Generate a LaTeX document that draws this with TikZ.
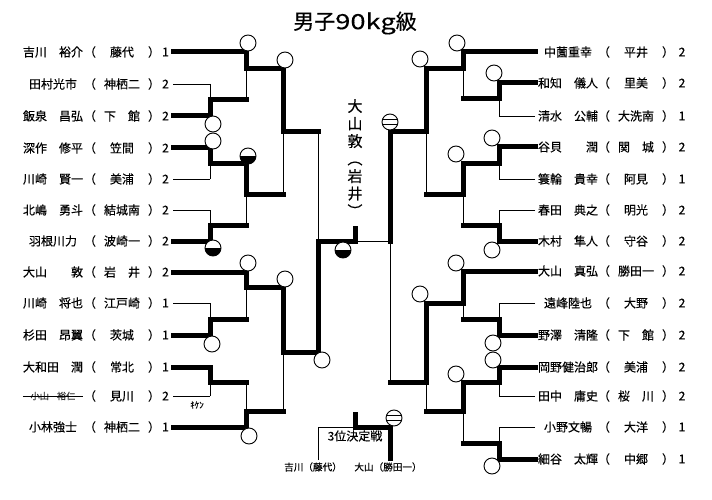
\documentclass[tikz,border=0pt]{standalone}
\usepackage{fontspec}
\setmainfont{Noto Sans CJK JP}[FakeBold=0.3]
\usepackage{graphicx}

\begin{document}
\begin{tikzpicture}
[x=1pt,y=-1pt,
  winLine/.style={line width=5pt,line cap=rect},%
  loseLine/.style={line width=0.8pt},
  nameDecorate/.style={inner sep=0pt,font=\fontsize{12}{12}\selectfont},
  markDecorate/.style={shape=circle,inner sep=0pt,minimum size=16pt,draw,fill=white,line width=0.9pt},
  halfDecorate/.style={markDecorate,path picture={\fill[black] (path picture bounding box.west) rectangle (path picture bounding box.south east);}},
  barDecorate/.style={markDecorate,path picture={\draw[black,line width=1.3pt]
    ([yshift=2.2pt]path picture bounding box.west) -- ([yshift=2.2pt]path picture bounding box.east)
    ([yshift=-2.2pt]path picture bounding box.west) -- ([yshift=-2.2pt]path picture bounding box.east);}}]
\useasboundingbox (0,0) rectangle (712,500);
%% title
\node (title) at (355,23) {\fontsize{21}{21}\selectfont 男子\scalebox{1.3}[1]{90kg}級};
%% players, left side
\foreach \rowname/\y/\player/\school/\score in {
  0/52/吉川\hfill 裕介/藤代/1,
  1/84/\hfill 田村光市\hfill/神栖二/2,
  2/116/飯泉\hfill 昌弘/下　館/2,
  3/148/深作\hfill 修平/笠間/2,
  4/179/川崎\hfill 賢一/美浦/2,
  5/210/北嶋\hfill 勇斗/結城南/2,
  6/241/\hfill 羽根川力\hfill/波崎一/2,
  7/272/大山\hfill 敦/岩　井/2,
  8/303/川崎\hfill 将也/江戸崎/1,
  9/335/杉田\hfill 昂翼/茨城/1,
  10/367/大和田\hfill 潤/常北/1,
  11/396/{\fontsize{9.2}{9.2}\selectfont\color{black!80}\hfill 小山\hspace{8pt}裕仁\hfill}/見川/2,
  12/427/\hfill 小林強士\hfill/神栖二/1}
{
  \node[nameDecorate] (nameL\rowname) at (53,\y) {\makebox[60pt]{\player}};
  \node[nameDecorate] (schoolL\rowname) at (122,\y) {（\makebox[52pt]{\school}）};
  \node[nameDecorate] (scoreL\rowname) at (165.5,\y) {\score};
  \coordinate (lr\rowname) at (173,\y);
}
\draw[loseLine] (nameL11.west) -- (nameL11.east);
\node (withdrawn) at (197,405) {\fontsize{9}{9}\selectfont ｷｹﾝ};
%% players, right side
\foreach \rowname/\y/\player/\school/\score in {
  0/52/\hfill 中薗重幸\hfill/平井/2,
  1/83/和知\hfill 儀人/里美/2,
  2/116/清水\hfill 公輔/大洗南/1,
  3/147/谷貝\hfill 潤/関　城/2,
  4/179/簑輪\hfill 貴幸/阿見/1,
  5/210/春田\hfill 典之/明光/2,
  6/241/木村\hfill 隼人/守谷/2,
  7/271/大山\hfill 真弘/勝田一/2,
  8/303/\hfill 遠峰陸也\hfill/大野/2,
  9/335/野澤\hfill 清隆/下　館/2,
  10/367/岡野健治郎/美浦/2,
  11/396/田中\hfill 庸史/桜　川/2,
  12/427/\hfill 小野文暢\hfill/大洋/1,
  13/459/細谷\hfill 太輝/中郷/1}
{
  \node[nameDecorate] (nameR\rowname) at (568,\y) {\makebox[60pt]{\player}};
  \node[nameDecorate] (schoolR\rowname) at (636,\y) {（\makebox[52pt]{\school}）};
  \node[nameDecorate] (scoreR\rowname) at (682,\y) {\score};
  \coordinate (rr\rowname) at (535,\y);
}
%% match points
\foreach \pointname/\x/\y in {
  j1/210/100, j2/210/163, j3/210/225, j4/210/319, j5/210/382,
  k1/246/69, k2/246/194, k3/246/287, k4/246/411,
  q1/283/132, q2/283/352, s1/318/241,
  J1/499/99, J2/499/163, J3/499/225, J4/499/319, J5/499/382, J6/499/443,
  K1/463/69, K2/463/194, K3/463/303, K4/463/411,
  Q1/426/132, Q2/426/382, S1/390/241,
  fin/355/228, finBase/355/241,
  thirdL/318/460, thirdR/390/458, thirdJ/355/427, thirdTop/355/414}
{
  \coordinate (\pointname) at (\x,\y);
}
%% bracket lines
\foreach \startnode/\endnode/\hstyle/\vstyle in {
  lr0/k1/winLine/winLine, lr1/j1/loseLine/loseLine, lr2/j1/winLine/winLine,
  lr3/j2/winLine/winLine, lr4/j2/loseLine/loseLine, lr5/j3/loseLine/loseLine,
  lr6/j3/winLine/winLine, lr7/k3/winLine/winLine, lr8/j4/loseLine/loseLine,
  lr9/j4/winLine/winLine, lr10/j5/winLine/winLine, lr11/j5/loseLine/loseLine,
  lr12/k4/winLine/winLine,
  j1/k1/winLine/loseLine, j2/k2/winLine/winLine, j3/k2/winLine/loseLine,
  j4/k3/winLine/loseLine, j5/k4/winLine/loseLine,
  k1/q1/winLine/winLine, k2/q1/winLine/loseLine, k3/q2/winLine/winLine,
  k4/q2/winLine/loseLine, q1/s1/winLine/loseLine, q2/s1/winLine/winLine,
  s1/fin/winLine/winLine,
  rr0/K1/winLine/winLine, rr1/J1/winLine/winLine, rr2/J1/loseLine/loseLine,
  rr3/J2/winLine/winLine, rr4/J2/loseLine/loseLine, rr5/J3/loseLine/loseLine,
  rr6/J3/winLine/winLine, rr7/K3/winLine/winLine, rr8/J4/loseLine/loseLine,
  rr9/J4/winLine/winLine, rr10/J5/winLine/winLine, rr11/J5/loseLine/loseLine,
  rr12/J6/loseLine/loseLine, rr13/J6/winLine/winLine,
  J1/K1/winLine/loseLine, J2/K2/winLine/winLine, J3/K2/winLine/loseLine,
  J4/K3/winLine/loseLine, J5/K4/winLine/winLine, J6/K4/winLine/loseLine,
  K1/Q1/winLine/winLine, K2/Q1/winLine/loseLine, K3/Q2/winLine/winLine,
  K4/Q2/winLine/loseLine, Q1/S1/winLine/winLine, Q2/S1/winLine/loseLine}
{
  \draw[\hstyle] (\startnode) -- (\startnode -| \endnode);
  \draw[\vstyle] (\startnode -| \endnode) -- (\endnode);
}
\draw[loseLine] (S1) -- (finBase);
%% third place match
\draw[loseLine] (thirdL) |- (thirdJ);
\draw[winLine] (thirdR) |- (thirdJ) -- (thirdTop);
\node[nameDecorate] (thirdTitle) at (355,436) {3位決定戦};
\node (thirdA) at (313,467) {\fontsize{9.6}{9.6}\selectfont 吉川（藤代）};
\node (thirdB) at (388,467) {\fontsize{9.6}{9.6}\selectfont 大山（勝田一）};
%% champion
\node[align=center,font=\fontsize{15}{17.5}\selectfont] (champion) at (355,158) {大\\山\\敦\\︵\\岩\\井\\︶};
%% result marks
\foreach \markname/\x/\y/\kind in {
  mL1/248/43/markDecorate, mL2/285/60/markDecorate, mL3/213/124/markDecorate,
  mL4/213/141/markDecorate, mL5/248/156/halfDecorate, mL6/213/248/halfDecorate,
  mL7/248/263/markDecorate, mL8/285/279/markDecorate, mL9/212/344/markDecorate,
  mL10/322/360/markDecorate, mL11/249/436/markDecorate, mF/343/250/halfDecorate,
  mR1/457/43/markDecorate, mR2/420/59/markDecorate, mR3/494/73/markDecorate,
  mR4/390/122/barDecorate, mR5/492/138/markDecorate, mR6/456/154/markDecorate,
  mR7/492/250/markDecorate, mR8/456/263/markDecorate, mR9/420/294/markDecorate,
  mR10/493/343/markDecorate, mR11/493/360/markDecorate, mR12/456/374/markDecorate,
  mR13/492/466/markDecorate, mT/394/418/barDecorate}
{
  \node[\kind] (\markname) at (\x,\y) {};
}
\end{tikzpicture}
\end{document}
